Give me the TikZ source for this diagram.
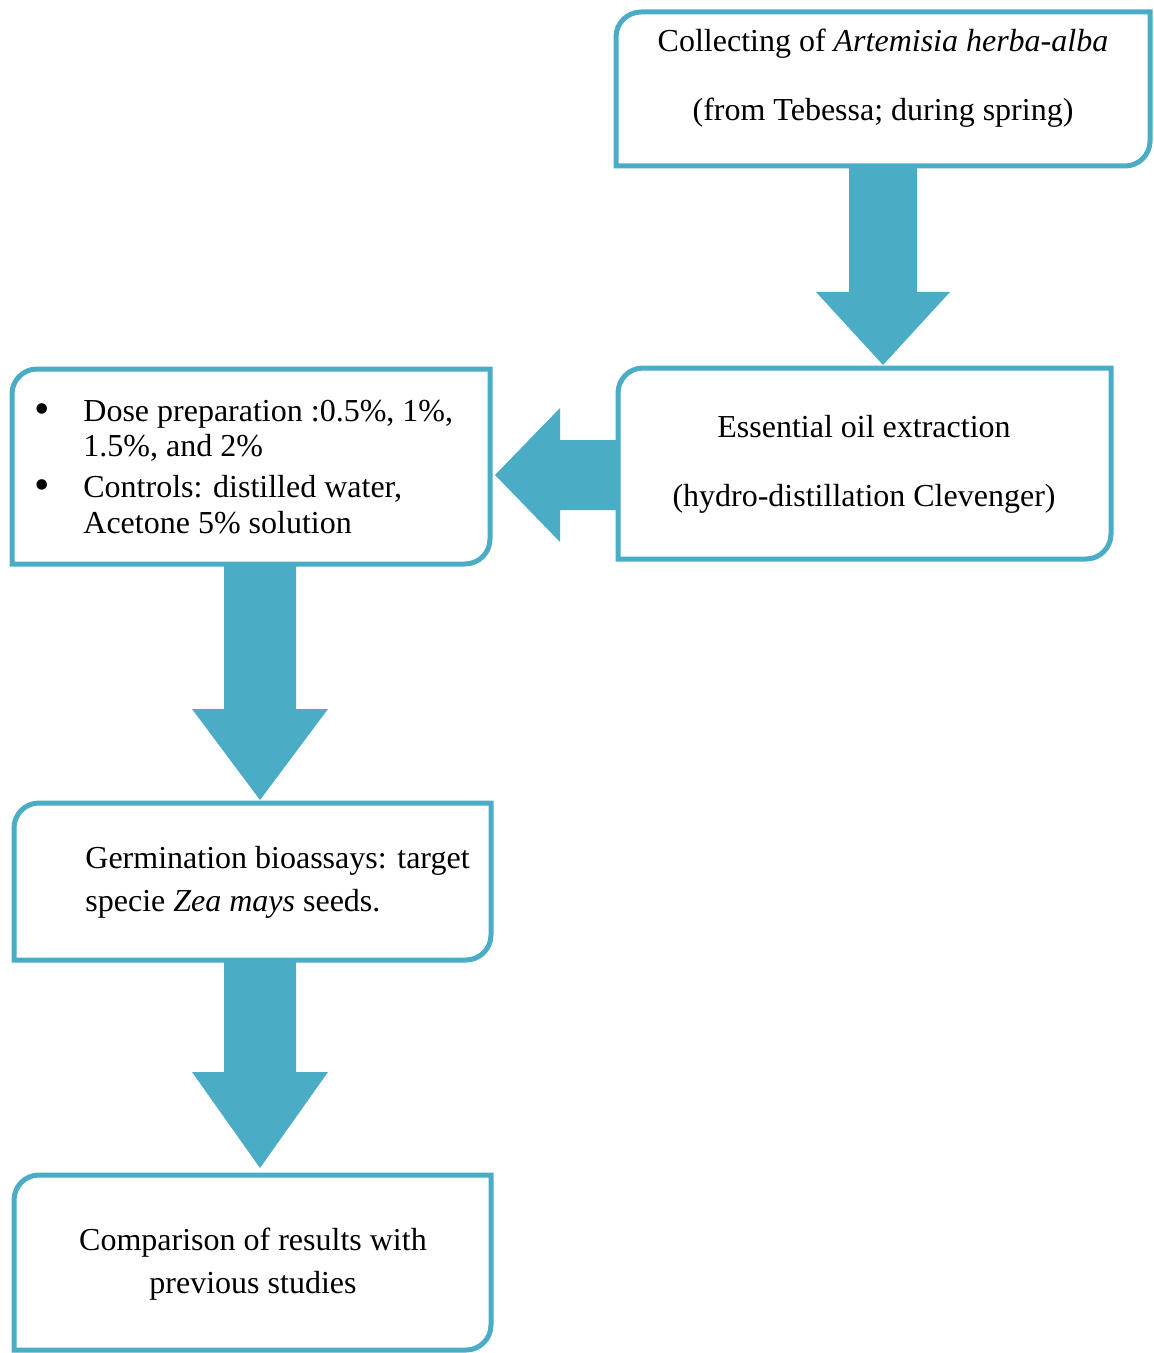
\documentclass[tikz,border=0pt]{standalone}
\usepackage{fontspec}
\setmainfont{Liberation Serif}
\usetikzlibrary{calc}
\definecolor{acc}{HTML}{4BACC6}
\tikzset{
  boxshape/.style={rectangle, inner sep=0pt, outer sep=0pt},
  txt/.style={anchor=base, inner sep=0pt, font=\fontsize{16}{19}\selectfont},
  txtl/.style={anchor=base west, inner sep=0pt, font=\fontsize{16}{19}\selectfont},
  bullet/.style={anchor=base, inner sep=0pt, font=\fontsize{22}{22}\selectfont},
  arrowfill/.style={fill=acc},
  border/.style={draw=acc, line width=2.5pt, fill=white}
}
\newcommand\flowbox[1]{%
  \filldraw[border] (#1.south west) -- ([yshift=-12.5pt]#1.north west)
    arc[start angle=180,end angle=90,radius=12.5pt] -- (#1.north east)
    -- ([yshift=12.5pt]#1.south east)
    arc[start angle=0,end angle=-90,radius=12.5pt] -- cycle;}
\begin{document}
\begin{tikzpicture}[x=0.5pt,y=-0.5pt]
\useasboundingbox (0,0) rectangle (1154,1353);
% box frames (named, undrawn nodes)
\node[boxshape, minimum width=267pt, minimum height=77pt] (b1) at (883,89) {};
\node[boxshape, minimum width=246.5pt, minimum height=95.5pt] (b2) at (864.5,463.5) {};
\node[boxshape, minimum width=239pt, minimum height=97.5pt] (b3) at (251,466.5) {};
\node[boxshape, minimum width=238.5pt, minimum height=78.5pt] (b4) at (252.5,881.5) {};
\node[boxshape, minimum width=238.5pt, minimum height=87.5pt] (b5) at (252.5,1262.5) {};
% arrow anchor points
\coordinate (a1s) at (b1.south);
\coordinate (a1t) at ($(b1.south |- b2.north)+(0,-3)$);
\coordinate (a2s) at ($(b2.west)+(0,11.5)$);
\coordinate (a2t) at ($(b3.east |- a2s)+(5,0)$);
\coordinate (a3s) at ($(b3.south)+(9,0)$);
\coordinate (a3t) at ($(a3s |- b4.north)+(0,-3)$);
\coordinate (a4s) at ($(b4.south)+(7.5,0)$);
\coordinate (a4t) at ($(a4s |- b5.north)+(0,-7)$);
% block arrows
\fill[arrowfill] ($(a1s)+(-34,0)$) -- ($(a1s)+(34,0)$) -- ($(a1t)+(34,-73)$) -- ($(a1t)+(67,-73)$)
  -- (a1t) -- ($(a1t)+(-67,-73)$) -- ($(a1t)+(-34,-73)$) -- cycle;
\fill[arrowfill] ($(a2s)+(0,-35)$) -- ($(a2s)+(0,35)$) -- ($(a2t)+(65,35)$) -- ($(a2t)+(65,67)$)
  -- (a2t) -- ($(a2t)+(65,-67)$) -- ($(a2t)+(65,-35)$) -- cycle;
\fill[arrowfill] ($(a3s)+(-36,0)$) -- ($(a3s)+(36,0)$) -- ($(a3t)+(36,-91)$) -- ($(a3t)+(68,-91)$)
  -- (a3t) -- ($(a3t)+(-68,-91)$) -- ($(a3t)+(-36,-91)$) -- cycle;
\fill[arrowfill] ($(a4s)+(-36,0)$) -- ($(a4s)+(36,0)$) -- ($(a4t)+(36,-96)$) -- ($(a4t)+(68,-96)$)
  -- (a4t) -- ($(a4t)+(-68,-96)$) -- ($(a4t)+(-36,-96)$) -- cycle;
% box borders
\flowbox{b1}\flowbox{b2}\flowbox{b3}\flowbox{b4}\flowbox{b5}
% texts
\node[txt] (t1a) at (883,52) {Collecting of \textit{Artemisia herba-alba}};
\node[txt] (t1b) at (883,121) {(from Tebessa; during spring)};
\node[txt] (t2a) at (864,437) {Essential oil extraction};
\node[txt] (t2b) at (864,506) {(hydro-distillation Clevenger)};
\node[bullet] (bu1) at (42,423) {•};
\node[txtl] (t3a) at (83,421) {Dose preparation :0.5\%, 1\%,};
\node[txtl] (t3b) at (83,456) {1.5\%, and 2\%};
\node[bullet] (bu2) at (42,499) {•};
\node[txtl] (t3c) at (83,497) {Controls: distilled water,};
\node[txtl] (t3d) at (83,533) {Acetone 5\% solution};
\node[txtl] (t4a) at (85,868) {Germination bioassays: target};
\node[txtl] (t4b) at (85,911) {specie \textit{Zea mays} seeds.};
\node[txt] (t5a) at (253,1250) {Comparison of results with};
\node[txt] (t5b) at (253,1293) {previous studies};
\end{tikzpicture}
\end{document}
